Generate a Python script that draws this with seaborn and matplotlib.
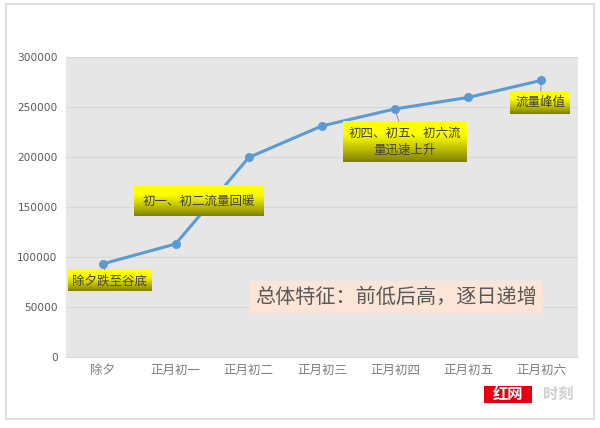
import numpy as np
import pandas as pd
import matplotlib
matplotlib.use('Agg')
import matplotlib.pyplot as plt
from matplotlib.patches import Rectangle
from matplotlib.ticker import FuncFormatter
import seaborn as sns

# data
days = ['除夕', '正月初一', '正月初二', '正月初三', '正月初四', '正月初五', '正月初六']
flow = [93000, 113000, 199500, 231000, 248000, 259500, 276500]
y_ticks = [0, 50000, 100000, 150000, 200000, 250000, 300000]

notes = ['除夕跌至谷底', '初一、初二流量回暖', '初四、初五、初六流\n量迅速上升', '流量峰值']
note_day = [0, 1, 4, 6]
summary = '总体特征：前低后高，逐日递增'

df = pd.DataFrame({'day': days, 'flow': flow})

sns.set_style('white')
plt.rcParams['font.family'] = ['Noto Sans CJK SC', 'DejaVu Sans']

fig = plt.figure(figsize=(6, 4.28), dpi=100)
ax = fig.add_axes([0.11, 0.166, 0.853, 0.701])
ax.set_facecolor('#e7e6e6')

sns.lineplot(data=df, x='day', y='flow', ax=ax, color='#5b9bd5', linewidth=2.2,
             marker='o', markersize=6.5, markeredgewidth=0, zorder=3, sort=False)

ax.set_xlim(-0.5, len(days) - 0.5)
ax.set_ylim(0, 300000)
ax.set_yticks(y_ticks)
ax.yaxis.set_major_formatter(FuncFormatter(lambda v, p: '%d' % v))
ax.grid(axis='y', color='#d9d9d9', linewidth=0.9)
ax.grid(axis='x', visible=False)
ax.set_axisbelow(True)
for s in ['top', 'right', 'left']:
    ax.spines[s].set_visible(False)
ax.spines['bottom'].set_color('#d9d9d9')
ax.tick_params(axis='y', length=0, pad=6, labelsize=7.6, labelcolor='#595959')
ax.tick_params(axis='x', length=0, pad=5, labelsize=9, labelcolor='#7f7f7f')
for t in ax.get_yticklabels():
    t.set_family('DejaVu Sans')
ax.set_xlabel('')
ax.set_ylabel('')

# callouts (offsets in points from their points)
offsets = [(5, -12), (16.5, 31), (7, -23.5), (-0.7, -16)]
pads = [0.35, 0.7, 0.45, 0.4]
arrows = [True, False, True, True]
anns = []
for txt, d, off, pd_, arr in zip(notes, note_day, offsets, pads, arrows):
    kw = {}
    if arr:
        kw['arrowprops'] = dict(arrowstyle='-', color='#8c8c8c', lw=0.7, shrinkA=0, shrinkB=0)
    a = ax.annotate(txt, xy=(d, flow[d]), xytext=off, textcoords='offset points',
                    ha='center', va='center', fontsize=9, color='#404040',
                    linespacing=1.35, zorder=6, annotation_clip=False,
                    bbox=dict(boxstyle='square,pad=%s' % pd_, fc='none', ec='none'), **kw)
    anns.append(a)

ax.text(0.645, 0.2, summary, transform=ax.transAxes, ha='center', va='center',
        fontsize=14.5, color='#595959', zorder=5,
        bbox=dict(boxstyle='square,pad=0.28', fc='#fce4d6', ec='none'))

# yellow gradient fill behind each callout
fig.canvas.draw()
renderer = fig.canvas.get_renderer()
t = np.linspace(0, 1, 64)
shade = np.clip((t - 0.3) / 0.7, 0, 1) ** 1.1
top = np.array([1.0, 1.0, 0.0])
bot = np.array([0.5, 0.5, 0.0])
grad = (top[None, :] * (1 - shade[:, None]) + bot[None, :] * shade[:, None])[:, None, :]
inv = ax.transData.inverted()
for a in anns:
    bb = a.get_bbox_patch().get_window_extent(renderer)
    (x0, y0), (x1, y1) = inv.transform([[bb.x0, bb.y0], [bb.x1, bb.y1]])
    ax.imshow(grad, extent=[x0, x1, y0, y1], aspect='auto', zorder=4,
              interpolation='bilinear', clip_on=False)
ax.set_xlim(-0.5, len(days) - 0.5)
ax.set_ylim(0, 300000)

# outer frame
fig.patches.append(Rectangle((0.01, 0.021), 0.98, 0.97, transform=fig.transFigure,
                             fill=False, edgecolor='#d9d9d9', linewidth=1.2))

# logo mark
fig.patches.append(Rectangle((0.807, 0.058), 0.08, 0.041, transform=fig.transFigure,
                             facecolor='#e60012', edgecolor='none'))
fig.text(0.847, 0.079, '红网', ha='center', va='center', fontsize=11,
         fontweight='bold', color='white')
fig.text(0.93, 0.079, '时刻', ha='center', va='center', fontsize=11,
         fontweight='bold', color='#d0d0d0')

fig.savefig('out.png', dpi=100)
